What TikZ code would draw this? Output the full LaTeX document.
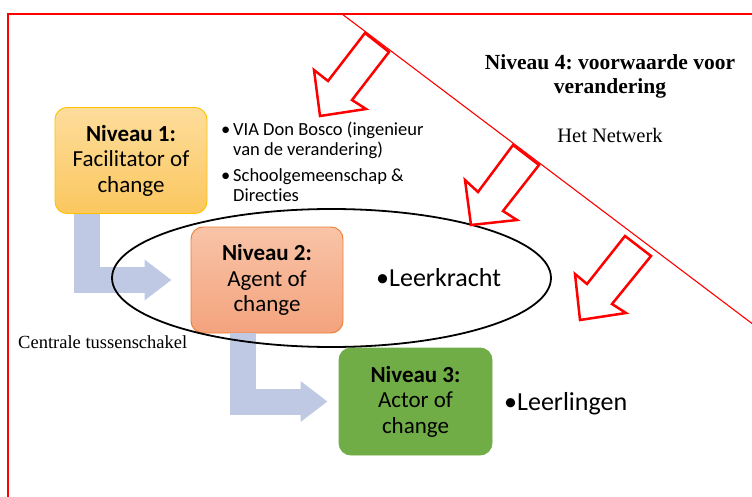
\documentclass[tikz,border=0pt]{standalone}
\usepackage{fontspec}
\setmainfont{Liberation Serif}
\newfontfamily\calibri[Ligatures=NoCommon]{Carlito}
\usetikzlibrary{arrows.meta,positioning,shapes.geometric}
\frenchspacing

\definecolor{flowblue}{RGB}{191,201,228}
\definecolor{goldtop}{RGB}{253,221,156}
\definecolor{goldbot}{RGB}{251,199,94}
\definecolor{goldline}{RGB}{255,192,0}
\definecolor{salmontop}{RGB}{248,196,168}
\definecolor{salmonbot}{RGB}{244,163,125}
\definecolor{salmonline}{RGB}{237,125,49}
\definecolor{leafgreen}{RGB}{112,173,71}

\tikzset{
  levelbox/.style={rounded corners=12pt, minimum width=152pt, minimum height=106pt,
    inner sep=0pt, align=center, line width=0.9pt,
    font=\calibri\fontsize{23}{25.5}\selectfont},
  flowarrow/.style={draw=flowblue, line width=26pt, -{Triangle[length=27pt,width=39pt]}},
  netarrow/.style={draw=red, line width=2.5pt, fill=white, line join=miter},
  bigbullet/.style={anchor=base west, inner sep=0pt, font=\calibri\fontsize{26}{30}\selectfont},
}

\begin{document}
\begin{tikzpicture}[x=1pt,y=-1pt]
  \useasboundingbox (0,0) rectangle (752,497);

  % frame and the network edge
  \draw [red, line width=2pt] (8,497) -- (8,14) -- (752,14);
  \draw [red, line width=1.1pt] (342,14) -- (752,323.5);

  % levels
  \node [levelbox, draw=goldline, top color=goldtop, bottom color=goldbot] (niv1) at (131,160.5)
    {\textbf{Niveau 1:}\\Facilitator of\\change};
  \node [levelbox, draw=salmonline, top color=salmontop, bottom color=salmonbot] (niv2) at (267,280)
    {\textbf{Niveau 2:}\\Agent of\\change};
  \node [levelbox, draw=leafgreen, fill=leafgreen, minimum width=153pt, minimum height=107pt] (niv3) at (415.5,401.5)
    {\textbf{Niveau 3:}\\Actor of\\change};

  \draw [flowarrow] ([xshift=-44pt]niv1.south) |- ([xshift=-19pt]niv2.west);
  \draw [flowarrow] ([xshift=-24pt]niv2.south) |- ([xshift=-11pt]niv3.west);

  \node [draw, ellipse, line width=1.8pt, minimum width=439pt, minimum height=138pt] (ring) at (331.5,278) {};

  % arrows from the network
  \draw [netarrow] (365,33) -- (328,81) -- (314,70) -- (320,116) -- (366,109) -- (352,100) -- (389,52) -- cycle;
  \draw [netarrow] (513,145) -- (478,192) -- (465,180) -- (471,225) -- (517,220) -- (503,211) -- (539,165) -- cycle;
  \draw [netarrow] (625,236) -- (587,284) -- (575,274) -- (580,320) -- (626,313) -- (612,304) -- (651,256) -- cycle;

  % texts
  \node [anchor=north west, inner sep=0pt, font=\calibri\fontsize{18.5}{20.5}\selectfont] (info) at (221,120.6)
    {\begin{tabular}{@{}p{12pt}@{}l@{}}
      \textbullet & VIA Don Bosco (ingenieur\\
                  & van de verandering)\\[5.2pt]
      \textbullet & Schoolgemeenschap \&\\
                  & Directies
    \end{tabular}};
  \node [bigbullet] (leerkracht) at (376,286) {\textbullet Leerkracht};
  \node [bigbullet] (leerlingen) at (504,410) {\textbullet Leerlingen};

  \node [align=center, inner sep=0pt, font=\bfseries\fontsize{21.5}{24}\selectfont] (niv4) at (610,76)
    {Niveau 4: voorwaarde voor\\verandering};
  \node [anchor=base, inner sep=0pt, font=\fontsize{20.5}{24}\selectfont] (netwerk) at (610,143) {Het Netwerk};
  \node [anchor=base west, inner sep=0pt, font=\fontsize{18.5}{22}\selectfont] (schakel) at (18,348) {Centrale tussenschakel};
\end{tikzpicture}
\end{document}
